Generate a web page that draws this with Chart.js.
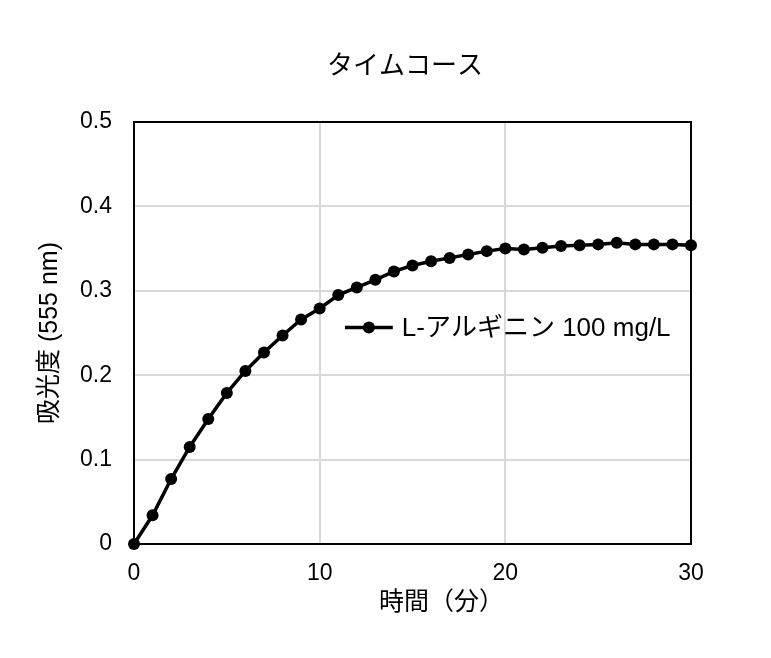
<!DOCTYPE html>
<html>
<head>
<meta charset="utf-8">
<script src="https://cdn.jsdelivr.net/npm/chart.js@4.4.1/dist/chart.umd.min.js"></script>
<style>
  html, body { margin: 0; padding: 0; background: #fff; }
  canvas { display: block; }
</style>
</head>
<body>
<canvas id="c" width="771" height="658"></canvas>
<script>
const chartTitle = "タイムコース";
const xAxisTitle = "時間（分）";
const yAxisTitle = "吸光度 (555 nm)";
const seriesLabel = "L-アルギニン 100 mg/L";
const times = [0,1,2,3,4,5,6,7,8,9,10,11,12,13,14,15,16,17,18,19,20,21,22,23,24,25,26,27,28,29,30];
const absorbance = [0, 0.034, 0.077, 0.115, 0.148, 0.179, 0.205, 0.227, 0.247, 0.266, 0.279,
  0.295, 0.304, 0.313, 0.323, 0.330, 0.335, 0.339, 0.343, 0.347, 0.350,
  0.349, 0.351, 0.353, 0.354, 0.355, 0.357, 0.355, 0.355, 0.355, 0.354];
const xTicks = [0, 10, 20, 30];
const yTicks = [0, 0.1, 0.2, 0.3, 0.4, 0.5];

const FONT = '"Liberation Sans", Arial, "Noto Sans CJK JP", sans-serif';

const framePlugin = {
  id: 'frame',
  beforeDatasetsDraw(chart) {
    const {ctx, chartArea: a} = chart;
    ctx.save();
    ctx.strokeStyle = '#000';
    ctx.lineWidth = 2;
    ctx.strokeRect(a.left, a.top, a.right - a.left, a.bottom - a.top);
    ctx.restore();
  },
  afterDraw(chart) {
    const {ctx, scales} = chart;
    const ds = chart.data.datasets[0];
    ctx.save();
    // chart title
    ctx.font = '26px ' + FONT;
    ctx.fillStyle = '#000';
    ctx.textAlign = 'center';
    ctx.textBaseline = 'middle';
    ctx.fillText(chartTitle, scales.x.getPixelForValue(14.6), 67);
    // legend inside plot
    const ly = scales.y.getPixelForValue(0.2565);
    const lx0 = scales.x.getPixelForValue(11.36);
    const lx1 = scales.x.getPixelForValue(13.94);
    const mx = (lx0 + lx1) / 2;
    ctx.strokeStyle = ds.borderColor;
    ctx.lineWidth = ds.borderWidth;
    ctx.beginPath();
    ctx.moveTo(lx0, ly);
    ctx.lineTo(lx1, ly);
    ctx.stroke();
    ctx.fillStyle = ds.pointBackgroundColor;
    ctx.beginPath();
    ctx.arc(mx, ly, ds.pointRadius, 0, Math.PI * 2);
    ctx.fill();
    ctx.font = '26px ' + FONT;
    ctx.fillStyle = '#000';
    ctx.textAlign = 'left';
    ctx.fillText(ds.label, lx1 + 9, ly + 1);
    // x axis title
    ctx.font = '25px ' + FONT;
    ctx.textAlign = 'center';
    ctx.fillText(xAxisTitle, scales.x.getPixelForValue(16.56), 603);
    ctx.restore();
  }
};

new Chart(document.getElementById('c'), {
  type: 'line',
  data: {
    datasets: [{
      label: seriesLabel,
      data: times.map((t, i) => ({x: t, y: absorbance[i]})),
      borderColor: '#000',
      backgroundColor: '#000',
      pointBackgroundColor: '#000',
      pointBorderColor: '#000',
      pointRadius: 6,
      pointBorderWidth: 0,
      borderWidth: 3.5,
      tension: 0,
      clip: false
    }]
  },
  options: {
    responsive: false,
    animation: false,
    devicePixelRatio: 1,
    layout: { padding: { top: 122, left: 0, right: 80, bottom: 0 } },
    plugins: {
      legend: { display: false },
      tooltip: { enabled: false },
      title: { display: false }
    },
    scales: {
      x: {
        type: 'linear',
        min: 0, max: 30,
        afterFit: s => { s.height = 114; },
        afterBuildTicks: s => { s.ticks = xTicks.map(v => ({value: v})); },
        grid: { color: '#d9d9d9', lineWidth: 2, drawTicks: false },
        border: { color: '#000', width: 2 },
        ticks: { color: '#000', padding: 16, font: { family: FONT, size: 23 } },
        title: { display: false }
      },
      y: {
        type: 'linear',
        min: 0, max: 0.5,
        afterFit: s => { s.width = 134; },
        afterBuildTicks: s => { s.ticks = yTicks.map(v => ({value: v})); },
        grid: { color: '#d9d9d9', lineWidth: 2, drawTicks: false },
        border: { color: '#000', width: 2 },
        ticks: {
          color: '#000', padding: 22, font: { family: FONT, size: 23 },
          callback: v => (v === 0 ? '0' : v.toFixed(1))
        },
        title: {
          display: true,
          text: yAxisTitle,
          color: '#000',
          font: { family: FONT, size: 25 },
          padding: { top: 35, bottom: 0 }
        }
      }
    }
  },
  plugins: [framePlugin]
});
</script>
</body>
</html>
